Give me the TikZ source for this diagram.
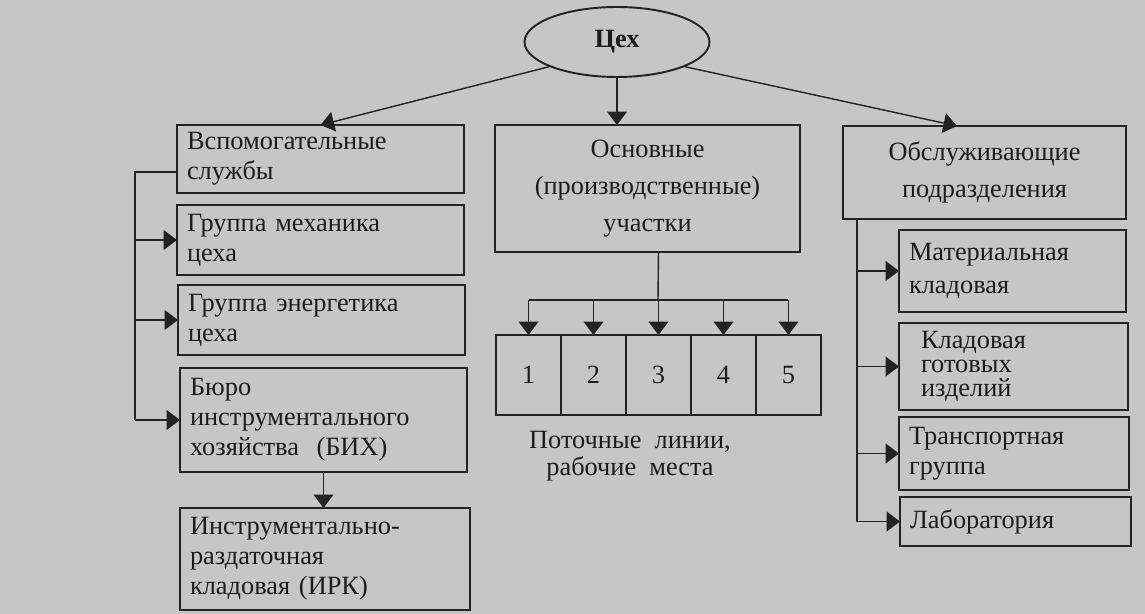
\documentclass[tikz,border=0pt]{standalone}
\usepackage{fontspec}
\setmainfont{Liberation Serif}
\usepackage{xcolor}
\usetikzlibrary{shapes, arrows.meta, positioning}
\definecolor{paper}{RGB}{198,198,198}
\definecolor{inkgray}{RGB}{28,28,28}
\definecolor{linegray}{RGB}{35,35,35}

\begin{document}
\begin{tikzpicture}[x=0.02cm, y=-0.02cm, >={Triangle[length=0.27cm,width=0.4cm]},
  every node/.style={font=\fontsize{15}{17}\selectfont, text=inkgray},
  unitbox/.style={rectangle, draw=linegray, fill=paper, line width=0.8pt, inner xsep=0.2cm, inner ysep=0pt, outer sep=0pt, align=left},
  cellbox/.style={rectangle, draw=linegray, fill=paper, line width=0.8pt, minimum width=1.3cm, minimum height=1.6cm, inner sep=0pt, outer sep=0pt},
  link/.style={->, line width=0.8pt, linegray},
  bus/.style={line width=0.8pt, linegray}]

% Background
\fill[paper] (0,0) rectangle (1145,614);

% Shop
\node[ellipse, draw=linegray, fill=paper, line width=1.1pt, minimum width=3.7cm, minimum height=1.4cm, font=\fontsize{15}{17}\selectfont\bfseries] at (617,42) (shop) {Цех};

% Auxiliary services
\node[unitbox, text width=5.34cm, minimum height=1.36cm] at (320.5,159) (aux) {Вспомогательные\\службы};
\node[unitbox, text width=5.34cm, minimum height=1.4cm] at (320.5,240) (mech) {Группа механика\\цеха};
\node[unitbox, text width=5.34cm, minimum height=1.4cm] at (321.5,320) (energ) {Группа энергетика\\цеха};
\node[unitbox, text width=5.34cm, minimum height=2.08cm] at (323.5,420) (bih) {Бюро\\инструментального\\хозяйства~ (БИХ)};
\node[unitbox, text width=5.4cm, minimum height=2.04cm] at (325,559) (irk) {Инструментально-\\раздаточная\\кладовая (ИРК)};

% Main sections
\node[unitbox, align=center, text width=5.7cm, minimum height=2.54cm, font=\fontsize{15}{21}\selectfont] at (647.5,188.5) (main) {Основные\\(производственные)\\участки};

% Flow lines
\node[cellbox] at (528.5,375) (c1) {1};
\node[cellbox, right=0pt of c1] (c2) {2};
\node[cellbox, right=0pt of c2] (c3) {3};
\node[cellbox, right=0pt of c3] (c4) {4};
\node[cellbox, right=0pt of c4] (c5) {5};
\node[align=center, font=\fontsize{15}{15.5}\selectfont] at (630,456) (flow) {Поточные~ линии,\\рабочие~ места};

% Service units
\node[unitbox, align=center, text width=5.26cm, minimum height=1.86cm, font=\fontsize{15}{21}\selectfont] at (984.5,172.5) (serv) {Обслуживающие\\подразделения};
\node[unitbox, text width=4.14cm, minimum height=1.64cm, font=\fontsize{15}{19}\selectfont] at (1012.5,271) (mat) {Материальная\\кладовая};
\node[unitbox, inner xsep=0.44cm, text width=3.7cm, minimum height=1.74cm, font=\fontsize{15}{13.5}\selectfont] at (1013.5,366.5) (fin) {Кладовая\\готовых\\изделий};
\node[unitbox, text width=4.2cm, minimum height=1.46cm] at (1014,453.5) (trans) {Транспортная\\группа};
\node[unitbox, text width=4.22cm, minimum height=0.98cm] at (1015.5,521.5) (lab) {Лаборатория};

% Connections
\draw[link] (shop.200) -- (aux.north);
\draw[link] (shop.south) -- (main.north -| shop.south);
\draw[link] (shop.-20) -- ([xshift=-0.55cm]serv.north);

\coordinate (lbus) at (135,172);
\draw[bus] (lbus -| aux.west) -- (lbus) -- (lbus |- bih.west);
\foreach \target in {mech,energ,bih} {
  \draw[link] (lbus |- \target.west) -- (\target.west);
}
\draw[link] (bih.south) -- (bih.south |- irk.north);

\coordinate (fbus) at (658,300);
\draw[bus] (fbus -| c1.north) -- (fbus -| c5.north);
\draw[bus] (main.south -| c3.north) -- (fbus);
\foreach \target in {c1,c2,c3,c4,c5} {
  \draw[link] (fbus -| \target.north) -- (\target.north);
}

\coordinate (rbus) at (857,219);
\draw[bus] (rbus) -- (rbus |- lab.west);
\foreach \target in {mat,fin,trans,lab} {
  \draw[link] (rbus |- \target.west) -- (\target.west);
}

\end{tikzpicture}
\end{document}
